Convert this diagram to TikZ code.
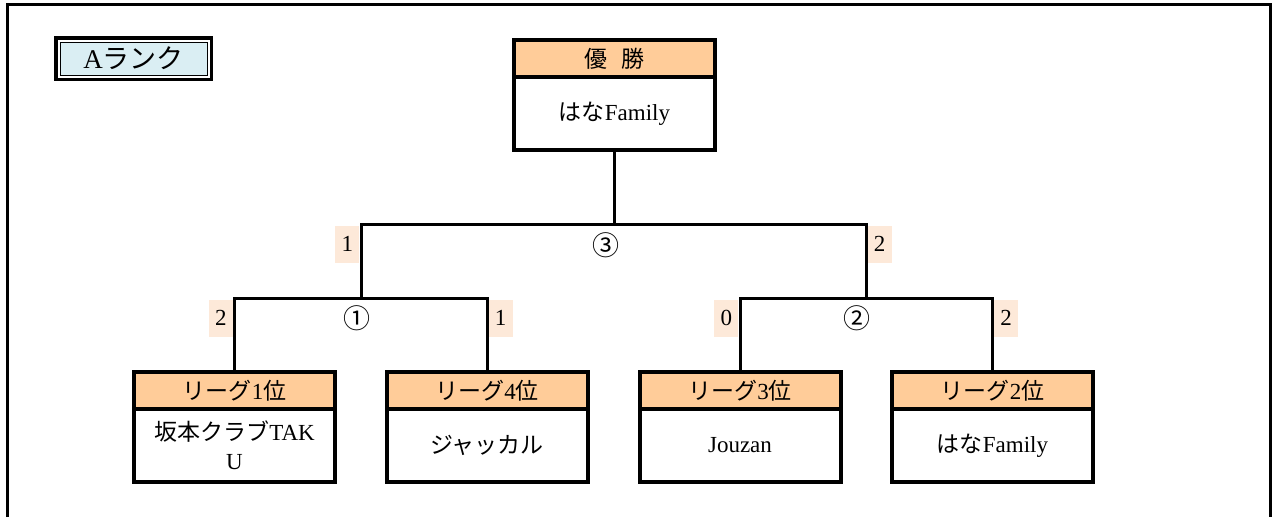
\documentclass[tikz,border=0pt]{standalone}
\usepackage{fontspec}
\setmainfont{Liberation Serif}
\newfontfamily\cjk{Noto Sans CJK JP}
\usetikzlibrary{positioning}
\definecolor{headpeach}{HTML}{FFCC99}
\definecolor{scorepink}{HTML}{FDE9D9}
\definecolor{rankblue}{HTML}{DAEEF3}

\begin{document}
\begin{tikzpicture}[x=1pt, y=-1pt, every node/.style={font=\fontsize{23}{29}\selectfont}]
\tikzstyle{head} = [rectangle, draw=black, line width=4pt, fill=headpeach,
  minimum width=201pt, minimum height=37pt, inner sep=0pt, outer sep=0pt,
  text centered]
\tikzstyle{team} = [rectangle, draw=black, line width=4pt, fill=white,
  minimum width=201pt, minimum height=73pt, inner sep=0pt, outer sep=0pt,
  align=center]
\tikzstyle{bracket} = [draw=black, line width=3pt]
\tikzstyle{score} = [rectangle, fill=scorepink, minimum width=24pt,
  minimum height=37pt, inner sep=0pt]
\tikzstyle{match} = [font=\cjk\fontsize{27}{30}\selectfont, inner sep=0pt]
\tikzstyle{rank} = [rectangle, draw=black, line width=1pt, fill=rankblue,
  minimum width=147pt, minimum height=33pt, inner sep=0pt,
  preaction={draw=black, line width=12pt}, preaction={draw=white, line width=5pt},
  font=\fontsize{27}{30}\selectfont]

\useasboundingbox (0,0) rectangle (1275,517);
\draw[line width=3pt] (7,517) |- (1270,4) -- (1270,517);

\node[rank] (rank) at (133.5,58.5) {A{\cjk ランク}};

% champion
\node[head] (hc) at (614.5,58.5) {{\cjk 優\hspace{0.6em}勝}};
\node[team, below=0pt of hc] (bc) {{\cjk はな}Family};

% league teams
\node[head] (h1) at (234.5,390.5) {{\cjk リーグ}1{\cjk 位}};
\node[team, below=0pt of h1] (b1) {{\cjk 坂本クラブ}TAK\\U};
\node[head] (h2) at (487,390.5) {{\cjk リーグ}4{\cjk 位}};
\node[team, below=0pt of h2] (b2) {{\cjk ジャッカル}};
\node[head] (h3) at (740,390.5) {{\cjk リーグ}3{\cjk 位}};
\node[team, below=0pt of h3] (b3) {Jouzan};
\node[head] (h4) at (992.5,390.5) {{\cjk リーグ}2{\cjk 位}};
\node[team, below=0pt of h4] (b4) {{\cjk はな}Family};

\coordinate (m1) at (361,298);
\coordinate (m2) at (866,298);
\coordinate (top) at (614.5,224);

\draw[bracket] (h1.north) |- (m1) -| (h2.north);
\draw[bracket] (h3.north) |- (m2) -| (h4.north);
\draw[bracket] (m1) |- (top) -| (m2);
\draw[bracket] (top) -- (bc.south);

% scores
\node[score, anchor=north east] (s31) at ([xshift=-1.5pt, yshift=-1.5pt] m1 |- top) {1};
\node[score, anchor=north west] (s32) at ([xshift=1.5pt, yshift=-1.5pt] m2 |- top) {2};
\node[score, anchor=north east] (s11) at ([xshift=-1.5pt, yshift=-1.5pt] h1.north |- m1) {2};
\node[score, anchor=north west] (s12) at ([xshift=1.5pt, yshift=-1.5pt] h2.north |- m1) {1};
\node[score, anchor=north east] (s21) at ([xshift=-1.5pt, yshift=-1.5pt] h3.north |- m2) {0};
\node[score, anchor=north west] (s22) at ([xshift=1.5pt, yshift=-1.5pt] h4.north |- m2) {2};

% match numbers
\node[match] (g3) at ([xshift=-9pt, yshift=-21pt] top) {③};
\node[match] (g1) at ([xshift=-4pt, yshift=-20pt] m1) {①};
\node[match] (g2) at ([xshift=-9pt, yshift=-20pt] m2) {②};
\end{tikzpicture}
\end{document}
